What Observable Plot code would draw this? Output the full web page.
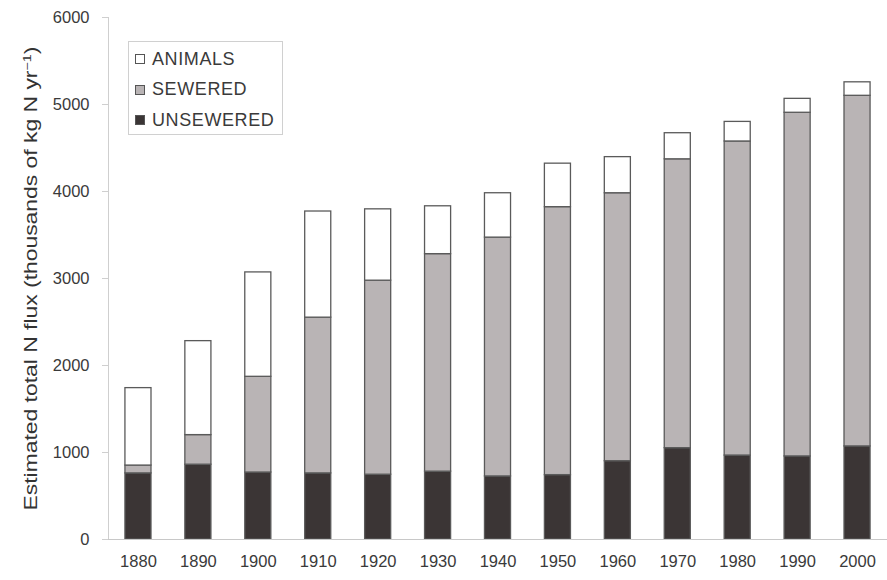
<!DOCTYPE html>
<html>
<head>
<meta charset="utf-8">
<script src="https://cdn.jsdelivr.net/npm/d3@7"></script>
<script src="https://cdn.jsdelivr.net/npm/@observablehq/plot@0.6"></script>
<style>
  body { margin: 0; background: #fff; font-family: "Liberation Sans", Arial, sans-serif; }
  #wrap { position: relative; width: 887px; height: 580px; }
  #legend { position: absolute; left: 128px; top: 41px; width: 155px; height: 94px;
    border: 1px solid #d0d0d0; box-sizing: border-box; padding: 2px 0 0 6px; }
  .item { display: flex; align-items: center; height: 30.5px; font-size: 18px; letter-spacing: 0.6px; color: #3a3a3a; }
  .sw { width: 10px; height: 10px; border: 1px solid #555; margin-right: 7px; box-sizing: border-box; flex: none; }
</style>
</head>
<body>
<div id="wrap"><div id="legend"></div></div>
<script>
const years = ["1880","1890","1900","1910","1920","1930","1940","1950","1960","1970","1980","1990","2000"];
const unsewered = [760, 860, 770, 760, 745, 780, 725, 740, 900, 1050, 965, 955, 1070];
const sewered   = [90, 340, 1100, 1790, 2230, 2500, 2745, 3080, 3080, 3320, 3610, 3950, 4030];
const animals   = [890, 1080, 1200, 1220, 820, 550, 510, 500, 415, 300, 225, 160, 155];
const seriesNames = ["UNSEWERED", "SEWERED", "ANIMALS"];
const seriesColors = ["#3b3535", "#b9b4b5", "#ffffff"];
const yTicks = [0, 1000, 2000, 3000, 4000, 5000, 6000];
const legendOrder = ["ANIMALS", "SEWERED", "UNSEWERED"];
const yLabelMain = "Estimated total N flux (thousands of kg N yr";
const yLabelSup = "−1";
const yLabelEnd = ")";

const seriesValues = [unsewered, sewered, animals];
const rows = [];
years.forEach((yr, i) => {
  seriesNames.forEach((s, k) => rows.push({year: yr, series: s, value: seriesValues[k][i]}));
});

const chart = Plot.plot({
  width: 887,
  height: 580,
  marginLeft: 108,
  marginRight: 0,
  marginTop: 17,
  marginBottom: 41,
  style: {fontFamily: "'Liberation Sans', Arial, sans-serif", fontSize: "16px", color: "#333", background: "#fff"},
  x: {domain: years, paddingInner: 0.565, paddingOuter: 0.2825, round: false, label: null},
  y: {domain: [0, 6000], label: null},
  color: {domain: seriesNames, range: seriesColors},
  marks: [
    Plot.frame({anchor: "left", stroke: "#cfcfcf"}),
    Plot.barY(rows, {x: "year", y: "value", fill: "series", order: seriesNames, stroke: "#5a5a5a", strokeWidth: 1.3}),
    Plot.ruleY([0], {stroke: "#c8c8c8", strokeWidth: 1}),
    Plot.axisY({ticks: yTicks, tickFormat: d => String(d), tickSize: 6, tickPadding: 13, stroke: "#cfcfcf", fill: "#3a3a3a", fontSize: 16.5,
      label: "Y", labelArrow: "none", labelAnchor: "center", labelOffset: 84}),
    Plot.axisX({tickSize: 0, tickPadding: 16, fill: "#3a3a3a", fontSize: 16.5, label: null})
  ]
});
document.getElementById("wrap").prepend(chart);

// y label with superscript
const svg = d3.select(chart);
const lab = svg.select('[aria-label="y-axis label"] text');
lab.text(null).attr("font-size", 17.5).attr("fill", "#333")
  .attr("textLength", 464).attr("lengthAdjust", "spacingAndGlyphs");
lab.append("tspan").text(yLabelMain);
lab.append("tspan").text(yLabelSup).attr("font-size", 11).attr("dy", "-0.55em");
lab.append("tspan").text(yLabelEnd).attr("dy", "0.35em");

const legend = document.getElementById("legend");
legendOrder.forEach(name => {
  const div = document.createElement("div");
  div.className = "item";
  const sw = document.createElement("span");
  sw.className = "sw";
  sw.style.background = seriesColors[seriesNames.indexOf(name)];
  div.appendChild(sw);
  div.appendChild(document.createTextNode(name));
  legend.appendChild(div);
});
</script>
</body>
</html>
